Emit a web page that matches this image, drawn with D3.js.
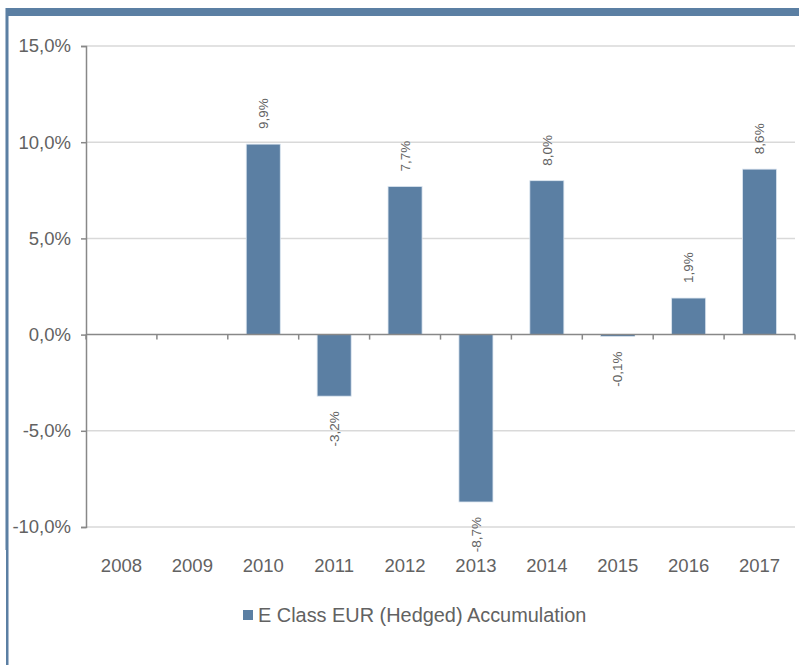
<!DOCTYPE html>
<html>
<head>
<meta charset="utf-8">
<script src="https://cdn.jsdelivr.net/npm/d3@7"></script>
<style>
  body { margin: 0; background: #fff; }
  text { font-family: "Liberation Sans", Arial, sans-serif; }
</style>
</head>
<body>
<div class="container"></div>
<script>
const wd = 799
const ht = 665

const years = ["2008","2009","2010","2011","2012","2013","2014","2015","2016","2017"]
const returns = [null, null, 9.9, -3.2, 7.7, -8.7, 8.0, -0.1, 1.9, 8.6]
const yTicks = [-10, -5, 0, 5, 10, 15]
const seriesName = "E Class EUR (Hedged) Accumulation"

const barColor = "#5b7fa3"
const textColor = "#626262"

const svgC = d3.select(".container")
.append("svg")
.attr("width", wd)
.attr("height", ht)

// frame: top band + left line
svgC.append("rect")
.attr("x", 5).attr("y", 8).attr("width", wd - 5).attr("height", 8)
.attr("fill", barColor)
svgC.append("line")
.attr("x1", 5.5).attr("x2", 5.5).attr("y1", 8).attr("y2", 550)
.attr("stroke", "#a9bcd0").attr("stroke-width", 1)
svgC.append("rect")
.attr("x", 6).attr("y", 8).attr("width", 2.5).attr("height", ht - 8)
.attr("fill", barColor)

const xScale = d3.scaleBand()
.domain(years)
.range([86, 795])
.paddingInner(0.52)
.paddingOuter(0.26)

const yScale = d3.scaleLinear()
.domain([-10, 15])
.range([527, 46])

const step = xScale.step()

// gridlines
svgC.append("g")
.selectAll("line")
.data(yTicks.filter(d => d !== 0))
.enter()
.append("line")
.attr("x1", 86).attr("x2", 795)
.attr("y1", d => yScale(d)).attr("y2", d => yScale(d))
.attr("stroke", "#d9d9d9")
.attr("stroke-width", 1.5)

// y axis
const yAxis = svgC.append("g")
.attr("transform", "translate(86,0)")
.call(d3.axisLeft(yScale).tickValues(yTicks).tickSize(5).tickPadding(10)
  .tickFormat(d => d3.format(".1f")(d).replace(".", ",").replace("−", "-") + "%"))
yAxis.select(".domain").attr("stroke", "#888").attr("stroke-width", 1.5)
yAxis.selectAll(".tick line").attr("stroke", "#888").attr("stroke-width", 1.5)
yAxis.selectAll(".tick text")
.attr("fill", textColor)
.style("font-size", "18.5px")
.style("font-family", "'Liberation Sans', Arial, sans-serif")

// bars
svgC.append("g")
.selectAll("rect")
.data(years.map((y, i) => ({year: y, v: returns[i]})).filter(d => d.v !== null))
.enter()
.append("rect")
.attr("x", d => xScale(d.year))
.attr("width", xScale.bandwidth())
.attr("y", d => yScale(Math.max(0, d.v)))
.attr("height", d => Math.max(1.5, Math.abs(yScale(d.v) - yScale(0))))
.attr("fill", barColor)
.attr("stroke", "#dce6f0")
.attr("stroke-width", 0.8)

// zero line with ticks at category boundaries
const zeroG = svgC.append("g")
zeroG.append("line")
.attr("x1", 86).attr("x2", 795)
.attr("y1", yScale(0)).attr("y2", yScale(0))
.attr("stroke", "#888").attr("stroke-width", 1.5)
zeroG.selectAll("line.tk")
.data(d3.range(years.length + 1))
.enter()
.append("line")
.attr("class", "tk")
.attr("x1", i => 86 + i * step).attr("x2", i => 86 + i * step)
.attr("y1", yScale(0)).attr("y2", yScale(0) + 5)
.attr("stroke", "#888").attr("stroke-width", 1.5)

// data labels
svgC.append("g")
.selectAll("text")
.data(years.map((y, i) => ({year: y, v: returns[i]})).filter(d => d.v !== null))
.enter()
.append("text")
.attr("transform", d => {
  let cx = xScale(d.year) + xScale.bandwidth() / 2
  let cy = d.v >= 0 ? yScale(d.v) - 15 : yScale(d.v) + 15
  return "translate(" + cx + "," + cy + ") rotate(-90)"
})
.attr("text-anchor", d => d.v >= 0 ? "start" : "end")
.attr("dy", "0.35em")
.attr("fill", textColor)
.style("font-size", "13.5px")
.text(d => d3.format(".1f")(d.v).replace(".", ",").replace("−", "-") + "%")

// x labels
svgC.append("g")
.selectAll("text")
.data(years)
.enter()
.append("text")
.attr("x", d => xScale(d) + xScale.bandwidth() / 2)
.attr("y", 572)
.attr("text-anchor", "middle")
.attr("fill", textColor)
.style("font-size", "18.5px")
.text(d => d)

// legend
const lg = svgC.append("g")
lg.append("rect")
.attr("x", 243).attr("y", 610).attr("width", 10).attr("height", 10)
.attr("fill", barColor)
lg.append("text")
.attr("x", 258).attr("y", 622)
.attr("fill", textColor)
.style("font-size", "19.9px")
.text(seriesName)
</script>
</body>
</html>
